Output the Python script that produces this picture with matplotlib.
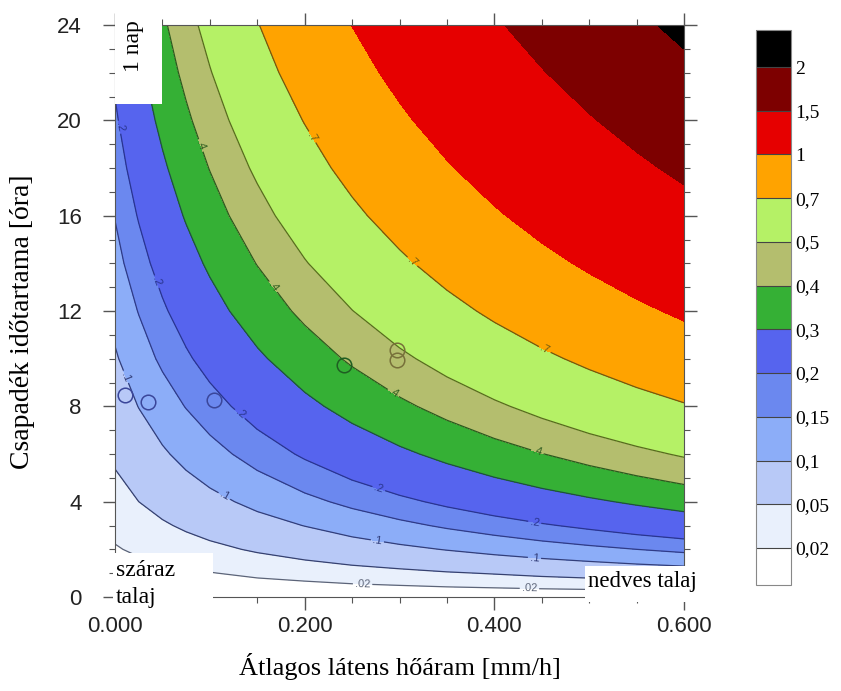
import matplotlib
matplotlib.use("Agg")
import matplotlib.pyplot as plt
import numpy as np
from matplotlib.patches import Rectangle
from matplotlib.ticker import MultipleLocator, FormatStrFormatter

# latent heat flux [mm/h] (columns) and rain duration [h] (rows)
flux = [0.0, 0.025, 0.05, 0.075, 0.1, 0.15, 0.2, 0.25, 0.3, 0.35, 0.4, 0.45, 0.5, 0.55, 0.6]
duration = [0, 1, 2, 3, 4, 6, 8, 10, 12, 14, 16, 18, 20, 22, 24]
ratio = [
    [0.000, 0.000, 0.000, 0.000, 0.000, 0.000, 0.000, 0.000, 0.000, 0.000, 0.000, 0.000, 0.000, 0.000, 0.000],
    [0.008, 0.011, 0.014, 0.016, 0.019, 0.025, 0.030, 0.036, 0.041, 0.047, 0.052, 0.058, 0.063, 0.069, 0.074],
    [0.018, 0.024, 0.030, 0.036, 0.042, 0.054, 0.066, 0.078, 0.090, 0.102, 0.114, 0.126, 0.138, 0.150, 0.162],
    [0.027, 0.037, 0.046, 0.055, 0.064, 0.083, 0.101, 0.120, 0.138, 0.157, 0.175, 0.194, 0.212, 0.231, 0.249],
    [0.037, 0.050, 0.062, 0.075, 0.087, 0.112, 0.137, 0.162, 0.187, 0.212, 0.237, 0.262, 0.287, 0.312, 0.337],
    [0.056, 0.075, 0.094, 0.113, 0.132, 0.170, 0.208, 0.246, 0.284, 0.322, 0.360, 0.398, 0.436, 0.474, 0.512],
    [0.075, 0.101, 0.126, 0.152, 0.177, 0.228, 0.279, 0.330, 0.381, 0.432, 0.483, 0.534, 0.585, 0.636, 0.687],
    [0.095, 0.127, 0.159, 0.191, 0.223, 0.286, 0.350, 0.414, 0.478, 0.542, 0.606, 0.670, 0.734, 0.798, 0.862],
    [0.114, 0.152, 0.191, 0.229, 0.268, 0.345, 0.421, 0.498, 0.575, 0.652, 0.729, 0.806, 0.883, 0.960, 1.037],
    [0.133, 0.178, 0.223, 0.268, 0.313, 0.403, 0.493, 0.583, 0.672, 0.762, 0.852, 0.942, 1.032, 1.122, 1.212],
    [0.152, 0.204, 0.255, 0.307, 0.358, 0.461, 0.564, 0.667, 0.769, 0.872, 0.975, 1.078, 1.181, 1.284, 1.387],
    [0.172, 0.229, 0.287, 0.345, 0.403, 0.519, 0.635, 0.751, 0.867, 0.982, 1.098, 1.214, 1.330, 1.446, 1.562],
    [0.191, 0.255, 0.320, 0.384, 0.448, 0.577, 0.706, 0.835, 0.964, 1.092, 1.221, 1.350, 1.479, 1.608, 1.737],
    [0.210, 0.281, 0.352, 0.423, 0.494, 0.635, 0.777, 0.919, 1.061, 1.203, 1.344, 1.486, 1.628, 1.770, 1.912],
    [0.229, 0.307, 0.384, 0.461, 0.539, 0.693, 0.848, 1.003, 1.158, 1.313, 1.467, 1.622, 1.777, 1.932, 2.087],
]

levels = [0.02, 0.05, 0.1, 0.15, 0.2, 0.3, 0.4, 0.5, 0.7, 1, 1.5, 2]
level_labels = ["0,02", "0,05", "0,1", "0,15", "0,2", "0,3", "0,4", "0,5", "0,7", "1", "1,5", "2"]
fill_colors = ["#e9f0fc", "#b8c9f7", "#8cadf8", "#6b88ef", "#5664ee", "#35b035",
               "#b4be6e", "#b5f166", "#ffa300", "#e60000", "#7d0000"]

line_levels = [0.02, 0.05, 0.1, 0.15, 0.2, 0.3, 0.4, 0.5, 0.7]
line_colors = ["#5c6478", "#36416f", "#323e7a", "#2f3b86", "#29358f", "#1f4d45",
               "#2b5a1e", "#58691f", "#6f5a12"]

# measured cases (open circles)
obs_flux = [0.0105, 0.035, 0.104, 0.242, 0.297, 0.297]
obs_dur = [8.47, 8.18, 8.26, 9.73, 10.36, 9.94]
obs_colors = ["#3a469a", "#3a469a", "#3a469a", "#1f5e22", "#77703a", "#77703a"]

# where the contour labels sit
label_spots = [(0.261, 0.45), (0.437, 0.35),
               (0.276, 2.18), (0.442, 1.47), (0.113, 4.07), (0.008, 9.18),
               (0.277, 4.40), (0.442, 2.98), (0.129, 7.55), (0.042, 13.2), (0.003, 19.7),
               (0.087, 18.9), (0.165, 12.96), (0.292, 8.47), (0.445, 6.04),
               (0.208, 19.3), (0.313, 14.05), (0.453, 10.36)]

plt.rcParams["font.family"] = ["Liberation Sans", "DejaVu Sans"]
serif = ["Liberation Serif", "DejaVu Serif"]

W, H = 841, 691


def fx(px):
    return px / W


def fy(py):
    return 1 - py / H


fig = plt.figure(figsize=(W / 100, H / 100), dpi=100)
ax = fig.add_axes([fx(115), fy(597), (684 - 115) / W, (597 - 25) / H])

X, Y = np.meshgrid(flux, duration)
Z = np.array(ratio)

cf = ax.contourf(X, Y, Z, levels=levels, colors=fill_colors, extend="both")
cf.cmap.set_under("white")
cf.cmap.set_over("black")
cf.changed()

cs = ax.contour(X, Y, Z, levels=line_levels, colors=line_colors, linewidths=0.9)
ax.clabel(cs, manual=label_spots, fmt=lambda v: ("%g" % v).lstrip("0"),
          fontsize=8, inline=True, inline_spacing=2)

ax.plot(obs_flux[:3], obs_dur[:3], "o", ms=10.5, mfc="none", mec=obs_colors[0], mew=1.1)
ax.plot(obs_flux[3:4], obs_dur[3:4], "o", ms=10.5, mfc="none", mec=obs_colors[3], mew=1.1)
ax.plot(obs_flux[4:], obs_dur[4:], "o", ms=10.5, mfc="none", mec=obs_colors[4], mew=1.1)

ax.set_xlim(0, 0.6)
ax.set_ylim(0, 24)
ax.xaxis.set_major_locator(MultipleLocator(0.2))
ax.xaxis.set_minor_locator(MultipleLocator(0.05))
ax.xaxis.set_major_formatter(FormatStrFormatter("%.3f"))
ax.yaxis.set_major_locator(MultipleLocator(4))
ax.yaxis.set_minor_locator(MultipleLocator(1))
ax.tick_params(which="both", direction="out", top=True, right=True, color="#555555")
ax.tick_params(which="major", length=9, width=1)
ax.tick_params(which="minor", length=4.5, width=0.8)
ax.tick_params(axis="x", labelsize=16, pad=5, labelcolor="#222222")
ax.tick_params(axis="y", labelsize=16, pad=15, labelcolor="#222222")
for sp in ax.spines.values():
    sp.set_color("#555555")

fig.text(fx(23), fy(322), "Csapadék időtartama [óra]", rotation=90,
         ha="center", va="center", fontsize=20, family=serif)
fig.text(fx(400), fy(667), "Átlagos látens hőáram [mm/h]",
         ha="center", va="center", fontsize=19, family=serif)

# colour bar
cax = fig.add_axes([fx(756), fy(585), 35 / W, (585 - 30) / H])
cbar = fig.colorbar(cf, cax=cax, extendrect=True, extendfrac=0.077, drawedges=True)
cbar.set_ticks(levels)
cbar.set_ticklabels(level_labels)
cbar.ax.tick_params(length=0, pad=3, labelsize=14)
for t in cbar.ax.get_yticklabels():
    t.set_family(serif)
cbar.outline.set_edgecolor("#888888")
cbar.outline.set_linewidth(0.8)
cbar.dividers.set_color("#444444")
cbar.dividers.set_linewidth(0.8)

# white annotation boxes
boxes = [(115, 0, 162, 104), (113, 553, 213, 612), (585, 566, 705, 602)]
for x0, y0, x1, y1 in boxes:
    fig.add_artist(Rectangle((fx(x0), fy(y1)), (x1 - x0) / W, (y1 - y0) / H,
                             transform=fig.transFigure, facecolor="white",
                             edgecolor="none", zorder=5))

fig.text(fx(133), fy(46), "1 nap", rotation=90, ha="center", va="center",
         fontsize=17, family=serif, zorder=6)
fig.text(fx(116), fy(571), "száraz", ha="left", va="center",
         fontsize=17, family=serif, zorder=6)
fig.text(fx(116), fy(597), "talaj", ha="left", va="center",
         fontsize=17, family=serif, zorder=6)
fig.text(fx(588), fy(582), "nedves talaj", ha="left", va="center",
         fontsize=16.5, family=serif, zorder=6)

fig.savefig("out.png", dpi=100)
